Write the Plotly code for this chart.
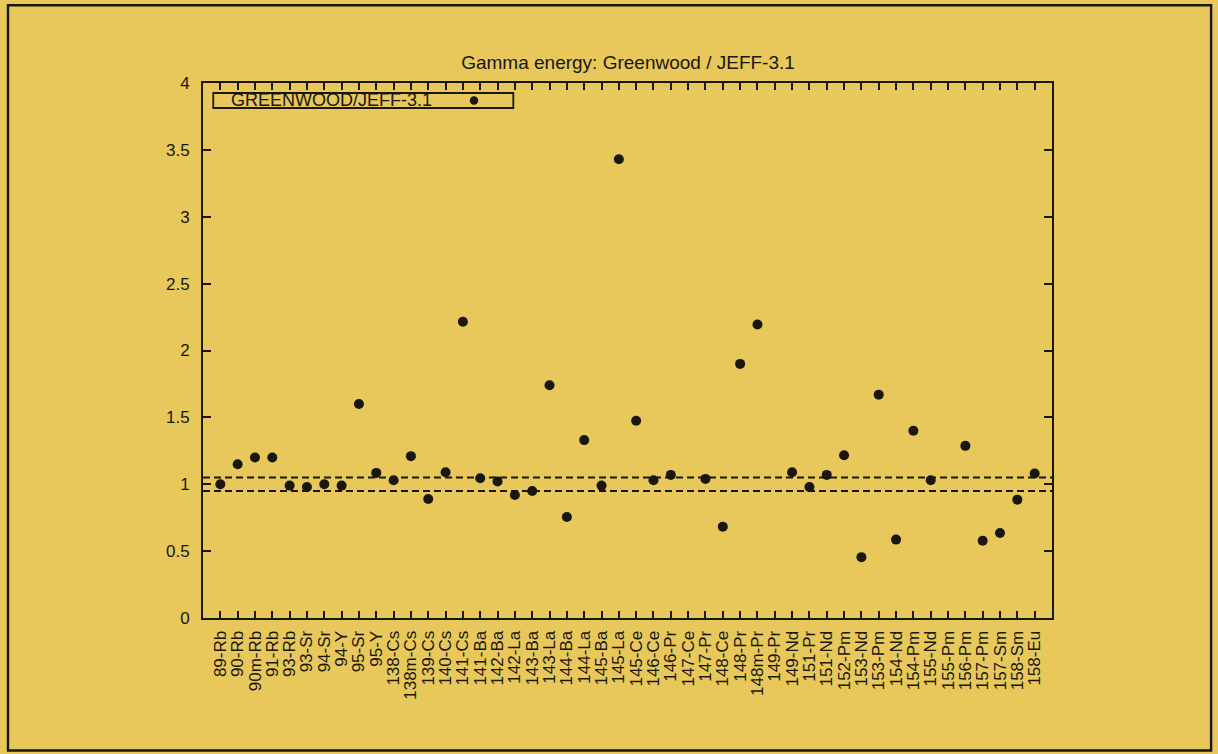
import plotly.graph_objects as go

# Nuclide labels along the x axis
nuclides = [
    "89-Rb", "90-Rb", "90m-Rb", "91-Rb", "93-Rb", "93-Sr", "94-Sr", "94-Y",
    "95-Sr", "95-Y", "138-Cs", "138m-Cs", "139-Cs", "140-Cs", "141-Cs", "141-Ba",
    "142-Ba", "142-La", "143-Ba", "143-La", "144-Ba", "144-La", "145-Ba", "145-La",
    "145-Ce", "146-Ce", "146-Pr", "147-Ce", "147-Pr", "148-Ce", "148-Pr", "148m-Pr",
    "149-Pr", "149-Nd", "151-Pr", "151-Nd", "152-Pm", "153-Nd", "153-Pm", "154-Nd",
    "154-Pm", "155-Nd", "155-Pm", "156-Pm", "157-Pm", "157-Sm", "158-Sm", "158-Eu",
]

# Ratio of mean gamma energies Greenwood / JEFF-3.1 (None = no value)
ratio = [
    1.00, 1.15, 1.20, 1.20, 0.99, 0.98, 1.00, 0.99,
    1.60, 1.085, 1.03, 1.21, 0.89, 1.09, 2.215, 1.045,
    1.02, 0.92, 0.95, 1.74, 0.755, 1.33, 0.99, 3.43,
    1.475, 1.03, 1.07, None, 1.04, 0.683, 1.90, 2.195,
    None, 1.09, 0.98, 1.07, 1.217, 0.455, 1.67, 0.586,
    1.40, 1.03, None, 1.287, 0.578, 0.635, 0.885, 1.08,
]

# +/- 5 % band around unity
band = [0.95, 1.05]

y_ticks = [0, 0.5, 1, 1.5, 2, 2.5, 3, 3.5, 4]
y_tick_text = ["0", "0.5", "1", "1.5", "2", "2.5", "3", "3.5", "4"]

BG = "#E8C85B"
INK = "#1a170e"
FONT = "Liberation Sans, Arial, Helvetica, sans-serif"

idx = list(range(len(nuclides)))

fig = go.Figure()

for level in band:
    fig.add_trace(go.Scatter(
        x=[-1, len(nuclides)], y=[level, level], mode="lines",
        line=dict(color=INK, width=1.9, dash="7px,4px"),
        hoverinfo="skip", showlegend=False,
    ))

fig.add_trace(go.Scatter(
    x=idx, y=ratio, mode="markers", name="GREENWOOD/JEFF-3.1",
    marker=dict(color=INK, size=10, line=dict(width=0)),
    showlegend=False,
))

axis_common = dict(
    showline=True, linecolor=INK, linewidth=2, mirror="ticks",
    ticks="inside", tickcolor=INK, tickwidth=1.6,
    showgrid=False, zeroline=False,
    tickfont=dict(family=FONT, size=17, color=INK),
)

fig.update_xaxes(
    range=[-1, len(nuclides)], tickmode="array", tickvals=idx, ticktext=nuclides,
    tickangle=-90, ticklen=7, ticklabelstandoff=4, **axis_common,
)
fig.update_yaxes(
    range=[0, 4], tickmode="array", tickvals=y_ticks, ticktext=y_tick_text,
    ticklen=8, ticklabelstandoff=8, **axis_common,
)

# Key box drawn in gnuplot style: text followed by the symbol
fig.add_shape(type="rect", xref="paper", yref="paper",
              x0=0.0121, x1=0.3655, y0=0.9533, y1=0.9813,
              line=dict(color=INK, width=1.8), fillcolor="rgba(0,0,0,0)")
fig.add_annotation(text="GREENWOOD/JEFF-3.1", xref="paper", yref="paper",
                   x=0.031, y=0.9673, xanchor="left", yanchor="middle",
                   showarrow=False, font=dict(family=FONT, size=18, color=INK))
fig.add_shape(type="circle", xref="paper", yref="paper",
              x0=0.3192 - 0.0050, x1=0.3192 + 0.0050,
              y0=0.9673 - 0.0080, y1=0.9673 + 0.0080,
              line=dict(width=0), fillcolor=INK)

# Outer page frame
fig.add_shape(type="rect", xref="paper", yref="paper",
              x0=-0.2297, x1=1.1874, y0=-0.2477, y1=1.1452,
              line=dict(color=INK, width=2.4), fillcolor="rgba(0,0,0,0)")

fig.update_layout(
    width=1218, height=754,
    paper_bgcolor=BG, plot_bgcolor=BG,
    margin=dict(l=203, r=166, t=83, b=136, pad=0),
    title=dict(text="Gamma energy: Greenwood / JEFF-3.1",
               x=628 / 1218, xanchor="center", y=1 - 62 / 754, yanchor="middle",
               font=dict(family=FONT, size=19, color=INK)),
    showlegend=False,
)

fig.write_html("out.html")
